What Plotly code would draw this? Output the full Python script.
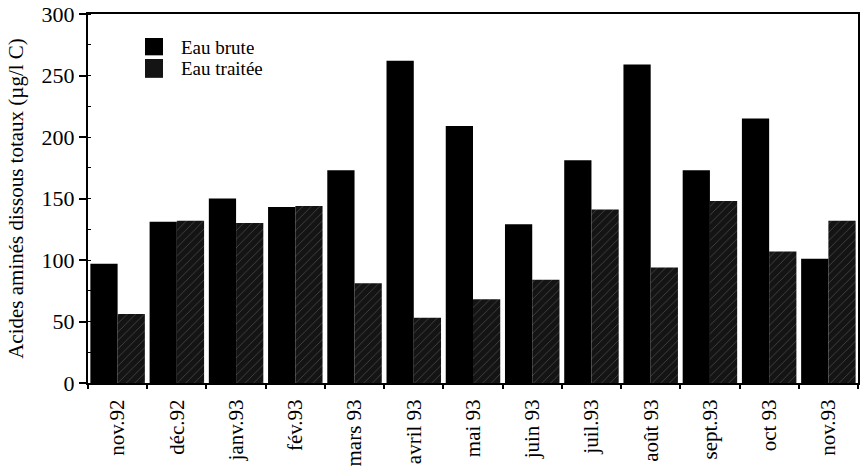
import plotly.graph_objects as go

months = ["nov.92", "déc.92", "janv.93", "fév.93", "mars 93", "avril 93", "mai 93",
          "juin 93", "juil.93", "août 93", "sept.93", "oct 93", "nov.93"]
eau_brute = [97, 131, 150, 143, 173, 262, 209, 129, 181, 259, 173, 215, 101]
eau_traitee = [56, 132, 130, 144, 81, 53, 68, 84, 141, 94, 148, 107, 132]
y_ticks = [0, 50, 100, 150, 200, 250, 300]
series_names = ["Eau brute", "Eau traitée"]

font_family = "Liberation Serif"
hatch = dict(shape="/", fgcolor="#8a8a8a", bgcolor="#141414", size=6, solidity=0.12)

fig = go.Figure()
fig.add_trace(go.Bar(
    x=months, y=eau_brute, name=series_names[0],
    marker=dict(color="#000000", line=dict(width=0)),
))
fig.add_trace(go.Bar(
    x=months, y=eau_traitee, name=series_names[1],
    marker=dict(color="#141414", line=dict(width=0), pattern=hatch),
))

# legend drawn in plot-area (paper) coordinates
legend_boxes = [(0.935, 0.888, "#000000"), (0.878, 0.827, "#141414")]
shapes = []
annotations = []
for (y1, y0, col), name in zip(legend_boxes, series_names):
    shapes.append(dict(type="rect", xref="paper", yref="paper",
                       x0=0.074, x1=0.0974, y0=y0, y1=y1,
                       fillcolor=col, line=dict(width=0)))
    annotations.append(dict(xref="paper", yref="paper", x=0.1195, y=(y0 + y1) / 2,
                            xanchor="left", yanchor="middle", text=name, showarrow=False,
                            borderpad=0, height=20,
                            font=dict(size=19, family=font_family, color="black")))

fig.update_layout(
    width=862, height=475, autosize=False,
    margin=dict(l=88, r=4, t=14, b=92),
    paper_bgcolor="white", plot_bgcolor="white",
    barmode="group", bargap=0.08, bargroupgap=0,
    font=dict(family=font_family, color="black", size=20),
    showlegend=False,
    shapes=shapes,
    annotations=annotations,
    xaxis=dict(
        automargin=False,
        showline=True, linecolor="black", linewidth=2, mirror=True,
        ticks="outside", tickson="boundaries", ticklen=4, tickwidth=2, tickcolor="black",
        tickangle=-90, tickfont=dict(size=21, family=font_family),
        ticklabelstandoff=6,
        showgrid=False,
    ),
    yaxis=dict(
        automargin=False,
        range=[0, 300], tickvals=y_ticks,
        showline=True, linecolor="black", linewidth=2, mirror=True,
        ticks="outside", ticklen=7, tickwidth=2, tickcolor="black",
        tickfont=dict(size=22, family=font_family),
        minor=dict(dtick=25, ticks="inside", ticklen=3, tickcolor="black", tickwidth=1),
        showgrid=False, zeroline=False,
        title=dict(text="Acides aminés dissous totaux (µg/l C)",
                   font=dict(size=21, family=font_family), standoff=12),
    ),
)

fig.write_html(
    "out.html",
    config={"responsive": False, "displayModeBar": False},
    post_script="document.body.style.margin='0';document.body.style.padding='0';",
)
